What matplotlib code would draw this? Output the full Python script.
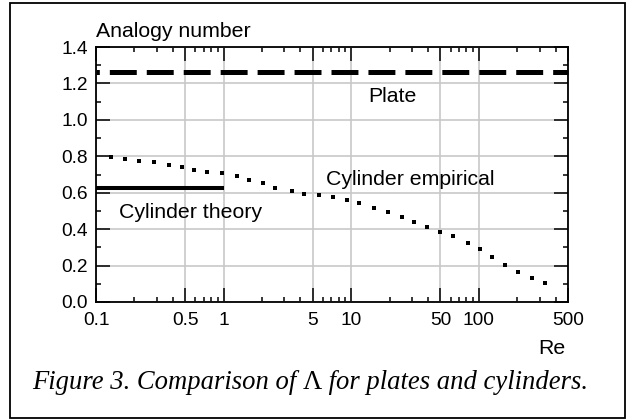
import matplotlib
matplotlib.use("Agg")
import matplotlib.pyplot as plt
from matplotlib.patches import Rectangle
from matplotlib.ticker import FixedLocator, FixedFormatter, NullFormatter

plt.rcParams['font.family'] = ['Liberation Sans', 'DejaVu Sans']
plt.rcParams['lines.scale_dashes'] = False

# ---- data ----
plate_re = [0.1, 500]
plate_val = [1.265, 1.265]

theory_re = [0.1, 1]
theory_val = [0.628, 0.628]

emp_re = [0.131, 0.169, 0.218, 0.285, 0.373, 0.469, 0.589, 0.745, 0.972,
          1.27, 1.59, 2.02, 2.54, 3.42, 4.29, 5.59, 7.24, 9.22, 11.6,
          15.1, 19.5, 24.9, 31.2, 39.5, 49.7, 63.1, 81.8, 102.8, 126.9,
          160.5, 201.7, 262.7, 330.3]
emp_val = [0.798, 0.786, 0.776, 0.769, 0.753, 0.743, 0.725, 0.714, 0.707,
           0.691, 0.670, 0.656, 0.628, 0.612, 0.595, 0.588, 0.577, 0.560,
           0.544, 0.516, 0.495, 0.469, 0.441, 0.414, 0.386, 0.363, 0.326,
           0.291, 0.246, 0.202, 0.166, 0.132, 0.104]

x_ticks = [0.1, 0.5, 1, 5, 10, 50, 100, 500]
x_tick_labels = ['0.1', '0.5', '1', '5', '10', '50', '100', '500']
x_minor = [0.2, 0.3, 0.4, 0.6, 0.7, 0.8, 0.9, 2, 3, 4, 6, 7, 8, 9,
           20, 30, 40, 60, 70, 80, 90, 200, 300, 400]
y_ticks = [0.0, 0.2, 0.4, 0.6, 0.8, 1.0, 1.2, 1.4]
y_tick_labels = ['0.0', '0.2', '0.4', '0.6', '0.8', '1.0', '1.2', '1.4']
y_minor = [0.1, 0.3, 0.5, 0.7, 0.9, 1.1, 1.3]

W, H = 635, 420
fig = plt.figure(figsize=(W / 100, H / 100), dpi=100)

def fx(px):
    return px / W

def fy(py):
    return 1 - py / H

ax = fig.add_axes([fx(96), fy(302), (568 - 96) / W, (302 - 47) / H])
ax.set_xscale('log')
ax.set_xlim(0.1, 500)
ax.set_ylim(0, 1.4)

ax.xaxis.set_major_locator(FixedLocator(x_ticks))
ax.xaxis.set_major_formatter(FixedFormatter(x_tick_labels))
ax.xaxis.set_minor_locator(FixedLocator(x_minor))
ax.xaxis.set_minor_formatter(NullFormatter())
ax.yaxis.set_major_locator(FixedLocator(y_ticks))
ax.yaxis.set_major_formatter(FixedFormatter(y_tick_labels))
ax.yaxis.set_minor_locator(FixedLocator(y_minor))

ax.tick_params(which='major', direction='in', length=10, width=1.1,
               top=True, right=True, labelsize=13.8, pad=6, colors='black')
ax.tick_params(which='minor', direction='in', length=3.5, width=1.1,
               top=True, right=True)
ax.tick_params(axis='x', which='major', pad=7)

ax.grid(True, which='major', color='#c8c8c8', linewidth=1.2)
ax.set_axisbelow(True)
for s in ax.spines.values():
    s.set_linewidth(1.3)
    s.set_color('black')

ax.plot(plate_re, plate_val, color='black', linewidth=3.6,
        linestyle=(17, (19.4, 7.2)), dash_capstyle='butt', clip_on=False)
ax.plot(theory_re, theory_val, color='black', linewidth=2.9,
        solid_capstyle='butt')
ax.plot(emp_re, emp_val, linestyle='none', marker='s', markersize=2.4,
        color='black', markeredgewidth=0)

ax.text(13.5, 1.099, 'Plate', fontsize=15.3, ha='left', va='baseline')
ax.text(6.35, 0.643, 'Cylinder empirical', fontsize=15.3, ha='left', va='baseline')
ax.text(0.151, 0.461, 'Cylinder theory', fontsize=15.3, ha='left', va='baseline')

fig.text(fx(96), fy(37), 'Analogy number', fontsize=15.3, ha='left', va='baseline')
fig.text(fx(566), fy(354), 'Re', fontsize=15.3, ha='right', va='baseline')

# caption: italic text with upright Lambda
renderer = fig.canvas.get_renderer()
cap_parts = [('Figure 3. Comparison of ', 'italic'), ('\u039b', 'normal'),
             (' for plates and cylinders.', 'italic')]
cap_size = 19.2
xcur = 32
for txt, style in cap_parts:
    t = fig.text(fx(xcur), fy(389), txt, fontsize=cap_size, ha='left',
                 va='baseline', family=['Liberation Serif', 'DejaVu Serif'],
                 style=style)
    bb = t.get_window_extent(renderer=renderer)
    xcur += bb.width

fig.patches.append(Rectangle((fx(10), fy(418)), (625 - 10) / W, (418 - 3) / H,
                             transform=fig.transFigure, fill=False,
                             edgecolor='black', linewidth=1.3))

fig.savefig('out.png', dpi=100)
